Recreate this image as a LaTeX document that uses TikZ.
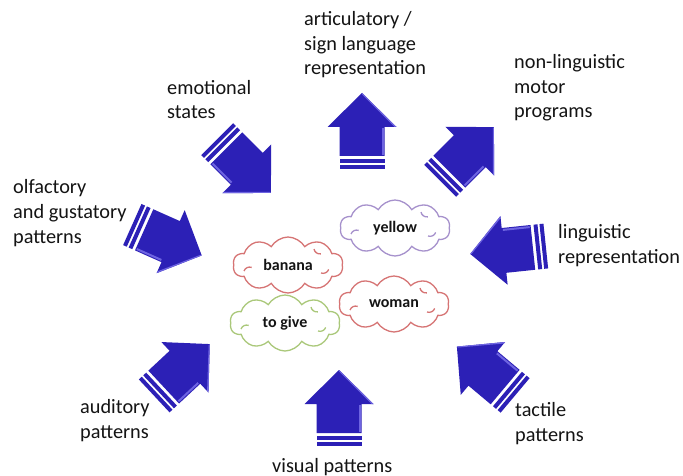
\documentclass[tikz,border=0pt]{standalone}
\usepackage{fontspec}
\setmainfont{Carlito}
\usetikzlibrary{shapes.symbols}
\definecolor{arrowblue}{RGB}{44,32,182}
\definecolor{arrowlight}{RGB}{110,100,225}
\definecolor{cloudred}{RGB}{214,116,116}
\definecolor{cloudpurple}{RGB}{166,145,204}
\definecolor{cloudgreen}{RGB}{170,200,122}
\definecolor{labeltext}{RGB}{20,20,20}
\tikzset{
  stripedarrow/.pic={
    % body and head
    \fill[arrowblue] (-25,-22.5) -- (4,-22.5) -- (4,-34.5) -- (38,0) -- (4,34.5)
      -- (4,22.5) -- (-25,22.5) -- cycle;
    % bevel highlight along one side
    \fill[arrowlight] (-24,19.5) rectangle (3,21.5);
    \fill[arrowlight] (4,32.5) -- (36.5,0) -- (38,0) -- (4,34.5) -- cycle;
    % two stripes at the tail
    \fill[arrowblue] (-32,-22.5) rectangle (-28,22.5);
    \fill[arrowblue] (-38,-22.5) rectangle (-34,22.5);
  },
  caption/.style={anchor=base west, align=left, inner sep=0pt, text=labeltext,
    font=\fontsize{20.3}{24.8}\selectfont},
  word/.style={cloud, cloud puffs=10, cloud puff arc=120, cloud ignores aspect,
    fill=white, line width=1.3pt, inner sep=0pt, minimum width=110pt,
    minimum height=56pt, font=\bfseries\fontsize{16}{19}\selectfont, text=labeltext},
  curl/.style={line width=1.3pt}
}
% small inner arcs of a word cloud
\newcommand\cloudcurls[2]{%
  \draw[curl,#2] ([shift={(-44,6)}]#1.center) arc[start angle=200,end angle=290,radius=6];
  \draw[curl,#2] ([shift={(26,-16)}]#1.center) arc[start angle=170,end angle=80,radius=6];
  \draw[curl,#2] ([shift={(33,8)}]#1.center) arc[start angle=110,end angle=20,radius=6];
}
\begin{document}
\begin{tikzpicture}[x=1pt,y=-1pt]
\useasboundingbox[fill=white] (0,0) rectangle (683,476);

% arrows around the word clouds
\pic[rotate=90]  at (362,131) {stripedarrow};
\pic[rotate=90]  at (339,408) {stripedarrow};
\pic[rotate=-45] at (244,166) {stripedarrow};
\pic[rotate=45]  at (467,154) {stripedarrow};
\pic[rotate=-24] at (167,240) {stripedarrow};
\pic[rotate=186] at (508,250) {stripedarrow};
\pic[rotate=43]  at (182,370) {stripedarrow};
\pic[rotate=140] at (486,371) {stripedarrow};

% labels
\node[caption] (artic) at (304,75) {articulatory /\\sign language\\representation};
\node[caption] (motor) at (514,118) {non-linguistic\\motor\\programs};
\node[caption] (emot) at (167,119) {emotional\\states};
\node[caption] (olf) at (13,243) {olfactory\\and gustatory\\patterns};
\node[caption] (ling) at (558,263) {linguistic\\representation};
\node[caption] (aud) at (80,438) {auditory\\patterns};
\node[caption] (tact) at (515,441) {tactile\\patterns};
\node[caption] (vis) at (272,472) {visual patterns};

% word clouds
\node[word, draw=cloudpurple] (yellow) at (395,228) {yellow};
\node[word, draw=cloudred] (banana) at (288,265) {banana};
\node[word, draw=cloudred] (woman) at (394,304) {woman};
\node[word, draw=cloudgreen] (give) at (285,323) {to give};
\cloudcurls{yellow}{cloudpurple}
\cloudcurls{banana}{cloudred}
\cloudcurls{woman}{cloudred}
\cloudcurls{give}{cloudgreen}
\end{tikzpicture}
\end{document}
